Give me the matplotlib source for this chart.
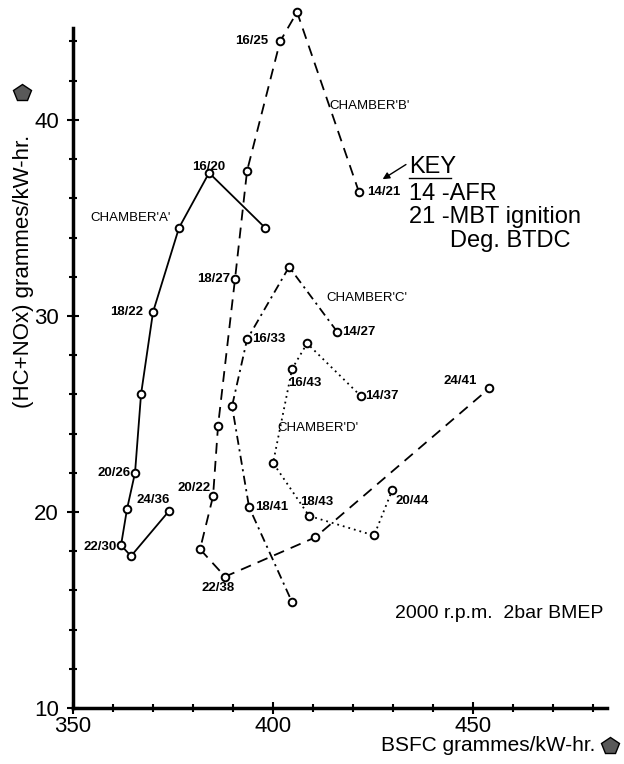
#!/usr/bin/env python3
import matplotlib
matplotlib.use("Agg")
import matplotlib.pyplot as plt
from matplotlib.ticker import MultipleLocator, FixedLocator

plt.rcParams['font.family'] = ['Liberation Sans', 'DejaVu Sans']

# BSFC (g/kW-hr) vs HC+NOx (g/kW-hr), points in order along each curve
a_bsfc = [374.0, 364.5, 362.0, 363.5, 365.5, 367.0, 370.0, 376.5, 384.0, 398.0]
a_emis = [20.05, 17.75, 18.3, 20.15, 22.0, 26.0, 30.2, 34.5, 37.3, 34.5]

b_bsfc = [421.5, 406.0, 401.75, 393.5, 390.5, 386.25, 385.0, 381.75, 388.0, 410.5, 454.0]
b_emis = [36.3, 45.5, 44.0, 37.4, 31.9, 24.4, 20.8, 18.1, 16.7, 18.7, 26.3]

c_bsfc = [416.0, 404.0, 393.5, 389.75, 394.0, 404.75]
c_emis = [29.2, 32.5, 28.8, 25.4, 20.25, 15.4]

d_bsfc = [422.0, 408.5, 404.75, 400.0, 409.0, 425.25, 429.75]
d_emis = [25.9, 28.6, 27.3, 22.5, 19.8, 18.8, 21.1]

# AFR / MBT ignition labels: text, x, y, alignment
pt_labels = [
    ("16/20", 383.8, 37.6, "center"),
    ("18/22", 367.5, 30.2, "right"),
    ("20/26", 364.3, 22.0, "right"),
    ("22/30", 361.0, 18.2, "right"),
    ("24/36", 370.0, 20.6, "center"),
    ("16/25", 398.8, 44.0, "right"),
    ("18/27", 389.3, 31.9, "right"),
    ("20/22", 384.3, 21.2, "right"),
    ("22/38", 386.3, 16.1, "center"),
    ("24/41", 451.0, 26.7, "right"),
    ("14/21", 423.5, 36.3, "left"),
    ("14/27", 417.3, 29.2, "left"),
    ("16/33", 394.8, 28.8, "left"),
    ("18/41", 395.5, 20.25, "left"),
    ("16/43", 408.0, 26.6, "center"),
    ("14/37", 423.0, 25.9, "left"),
    ("18/43", 411.0, 20.5, "center"),
    ("20/44", 430.5, 20.55, "left"),
]

chamber_labels = [
    ("CHAMBER'A'", 364.3, 35.0),
    ("CHAMBER'B'", 424.0, 40.7),
    ("CHAMBER'C'", 423.4, 30.9),
    ("CHAMBER'D'", 411.1, 24.3),
]

fig = plt.figure(figsize=(6.24, 7.64), dpi=100)
ax = fig.add_axes([0.117, 0.0733, 0.856, 0.916])

mk = dict(marker="o", markersize=5.5, markerfacecolor="white",
          markeredgecolor="black", markeredgewidth=1.4, color="black",
          linewidth=1.3, clip_on=False)
ax.plot(a_bsfc, a_emis, linestyle="-", **mk)
ax.plot(b_bsfc, b_emis, linestyle=(0, (6, 4)), **mk)
ax.plot(c_bsfc, c_emis, linestyle=(0, (5, 2.5, 1.2, 2.5)), **mk)
ax.plot(d_bsfc, d_emis, linestyle=(0, (1, 2.2)), **mk)

for txt, x, y, ha in pt_labels:
    ax.text(x, y, txt, ha=ha, va="center", fontsize=9.5, fontweight="bold")
for txt, x, y in chamber_labels:
    ax.text(x, y, txt, ha="center", va="center", fontsize=9.5)

# key block
ax.text(434.0, 37.3, "KEY", fontsize=17, va="baseline")
ax.plot([434.0, 444.5], [37.05, 37.05], color="black", linewidth=1.0)
ax.text(434.0, 35.9, "14 -AFR", fontsize=17, va="baseline")
ax.text(434.0, 34.75, "21 -MBT ignition", fontsize=17, va="baseline")
ax.text(444.3, 33.5, "Deg. BTDC", fontsize=17, va="baseline")
ax.annotate("", xy=(426.8, 36.9), xytext=(433.8, 37.8),
            arrowprops=dict(arrowstyle="-|>", color="black", lw=1.0,
                            mutation_scale=10))

ax.text(430.5, 14.6, "2000 r.p.m.  2bar BMEP", fontsize=14, va="baseline")

ax.set_xlim(350, 483.5)
ax.set_ylim(10, 45.7)
ax.spines["top"].set_visible(False)
ax.spines["right"].set_visible(False)
ax.spines["left"].set_linewidth(2.5)
ax.spines["bottom"].set_linewidth(2.5)
ax.spines["left"].set_bounds(10, 44.7)

ax.xaxis.set_major_locator(FixedLocator([350, 400, 450]))
ax.xaxis.set_minor_locator(MultipleLocator(10))
ax.yaxis.set_major_locator(FixedLocator([10, 20, 30, 40]))
ax.yaxis.set_minor_locator(MultipleLocator(2))
ax.tick_params(which="both", direction="inout", width=1.5)
ax.tick_params(which="major", length=8, labelsize=16)
ax.tick_params(which="minor", length=6)
ax.tick_params(axis="x", which="major", pad=2)
ax.tick_params(axis="y", which="major", pad=6)

fig.text(0.037, 0.645, "(HC+NOx) grammes/kW-hr.", rotation=90,
         fontsize=16, ha="center", va="center")
fig.text(0.782, 0.024, "BSFC grammes/kW-hr.", fontsize=15,
         ha="center", va="center")
# stamp marks next to the axis titles
fig.add_artist(plt.Line2D([0.036], [0.878], marker="p", markersize=13,
                          markerfacecolor="0.35", markeredgecolor="black"))
fig.add_artist(plt.Line2D([0.978], [0.024], marker="p", markersize=13,
                          markerfacecolor="0.35", markeredgecolor="black"))

plt.savefig("out.png", dpi=100)
